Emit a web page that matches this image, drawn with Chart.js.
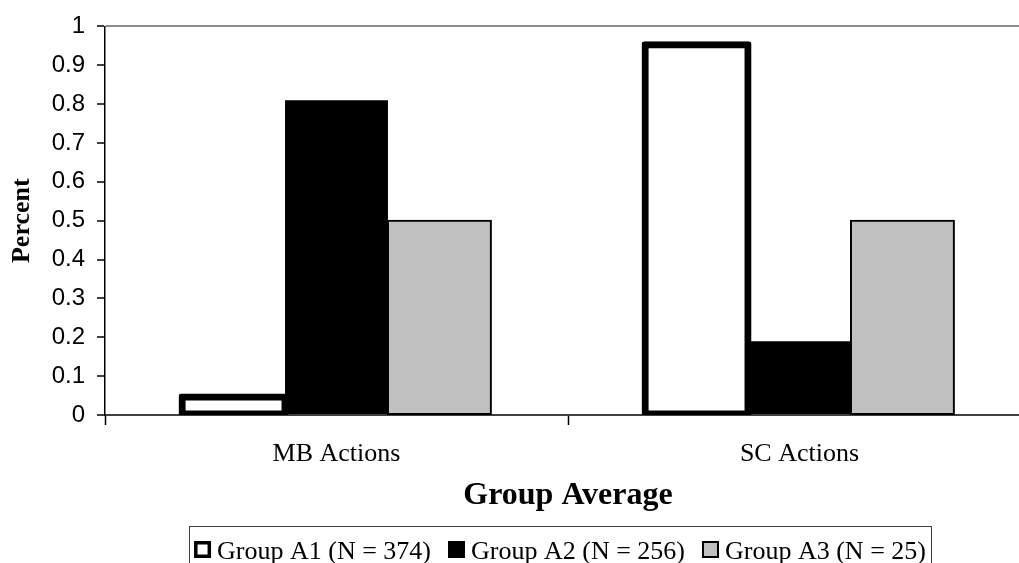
<!DOCTYPE html>
<html>
<head>
<meta charset="utf-8">
<script src="https://cdn.jsdelivr.net/npm/chart.js@4.4.0/dist/chart.umd.min.js"></script>
<style>
  html, body { margin: 0; padding: 0; background: #fff; overflow: hidden; }
  #marco { width: 1019px; height: 563px; overflow: hidden; }
</style>
</head>
<body>
<div id="marco"><canvas id="grafico" width="1040" height="563"></canvas></div>
<script>
// datos
var categorias = ["MB Actions", "SC Actions"];
var grupoA1 = [0.046, 0.953];
var grupoA2 = [0.81, 0.19];
var grupoA3 = [0.5, 0.5];
var nombres = ["Group A1 (N = 374)", "Group A2 (N = 256)", "Group A3 (N = 25)"];
var ejeYMin = 0, ejeYMax = 1, ejeYPaso = 0.1;

// leyenda con marco, como en el original
const leyendaMarco = {
    id: 'leyendaMarco',
    afterDraw(chart){
        const ctx = chart.ctx;
        ctx.save();
        ctx.font = '26px "Liberation Serif"';
        const caja = 17, hueco = 6, sep = 17;
        const items = chart.data.datasets.map(function(ds){
            return { ds: ds, w: ctx.measureText(ds.label).width };
        });
        let total = sep * (items.length - 1);
        items.forEach(function(it){ total += caja + hueco + it.w; });
        let x = 560 - total / 2;
        const arriba = 526;
        ctx.strokeStyle = '#404040';
        ctx.lineWidth = 1;
        ctx.strokeRect(Math.round(x - 5) + 0.5, arriba + 0.5, Math.round(total + 10), 50);
        items.forEach(function(it){
            const ds = it.ds;
            const y0 = 541;
            ctx.fillStyle = ds.backgroundColor;
            ctx.fillRect(x, y0, caja, caja);
            const lw = ds.borderWidth > 3 ? 3.5 : ds.borderWidth;
            if (lw > 0) {
                ctx.strokeStyle = ds.borderColor;
                ctx.lineWidth = lw;
                ctx.strokeRect(x + lw / 2, y0 + lw / 2, caja - lw, caja - lw);
            }
            ctx.fillStyle = '#000';
            ctx.textBaseline = 'alphabetic';
            ctx.textAlign = 'left';
            ctx.fillText(ds.label, x + caja + hueco, 559);
            x += caja + hueco + it.w + sep;
        });
        ctx.restore();
    }
};

const ctx = document.getElementById('grafico').getContext('2d');
const myChart = new Chart(ctx, {
    type: 'bar',
    data: {
        labels: categorias,
        datasets: [
            {
                label: nombres[0],
                data: grupoA1,
                backgroundColor: '#ffffff',
                borderColor: '#000000',
                borderWidth: 7,
                borderSkipped: false,
                borderRadius: 3,
                inflateAmount: 3.5,
                clip: 0
            },
            {
                label: nombres[1],
                data: grupoA2,
                backgroundColor: '#000000',
                borderColor: '#000000',
                borderWidth: 0,
                inflateAmount: 0,
                clip: 0
            },
            {
                label: nombres[2],
                data: grupoA3,
                backgroundColor: '#c0c0c0',
                borderColor: '#000000',
                borderWidth: 2,
                borderSkipped: false,
                inflateAmount: 1,
                clip: 0
            }
        ]
    },
    options: {
        responsive: false,
        animation: false,
        events: [],
        categoryPercentage: 0.667,
        barPercentage: 1.0,
        layout: { padding: { top: 23, right: 9, left: 0, bottom: 0 } },
        plugins: {
            legend: { display: false },
            tooltip: { enabled: false }
        },
        scales: {
            x: {
                grid: {
                    display: true,
                    drawOnChartArea: false,
                    drawTicks: true,
                    tickLength: 10,
                    tickColor: '#000',
                    tickWidth: 1.5,
                    offset: true
                },
                border: { display: true, color: '#404040', width: 2 },
                ticks: {
                    color: '#000',
                    padding: 14,
                    font: { family: '"Liberation Serif"', size: 26 }
                },
                title: {
                    display: true,
                    text: 'Group Average',
                    color: '#000',
                    font: { family: '"Liberation Serif"', size: 32, weight: 'bold' },
                    padding: { top: 4, bottom: 48 }
                },
                afterFit: function(scale){ scale.height = 148; }
            },
            y: {
                min: ejeYMin,
                max: ejeYMax,
                grid: {
                    color: function(c){ return (c.tick && c.tick.value === ejeYMax) ? '#8c8c8c' : 'rgba(0,0,0,0)'; },
                    lineWidth: 2,
                    tickLength: 8,
                    tickColor: '#000',
                    tickWidth: 1.5
                },
                border: { display: true, color: '#000', width: 1.5 },
                ticks: {
                    stepSize: ejeYPaso,
                    color: '#000',
                    padding: 12,
                    font: { family: '"Liberation Sans"', size: 24 },
                    callback: function(v){ return String(Number(Number(v).toFixed(1))); }
                },
                title: {
                    display: true,
                    text: 'Percent',
                    color: '#000',
                    font: { family: '"Liberation Serif"', size: 26, weight: 'bold' },
                    padding: { top: 7, bottom: 0 }
                },
                afterFit: function(scale){ scale.width = 105; }
            }
        }
    },
    plugins: [leyendaMarco]
});
</script>
</body>
</html>
